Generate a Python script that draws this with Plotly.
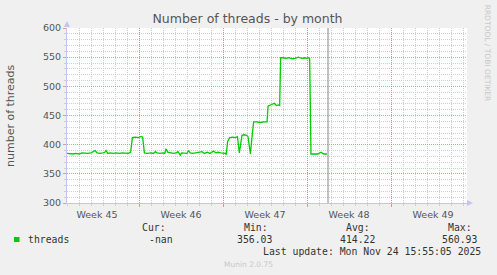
import plotly.graph_objects as go

# ---------------- data ----------------
days = [0.0, 0.25, 0.5, 0.75, 1.0, 1.25, 1.5, 1.75, 2.0, 2.2, 2.35, 2.5, 2.75, 3.0, 3.15, 3.25,
        3.4, 3.6, 3.85, 4.1, 4.35, 4.6, 4.85, 5.1, 5.3, 5.45, 5.7, 5.95, 6.2, 6.3, 6.45, 6.7,
        7.0, 7.2, 7.36, 7.5, 7.75, 8.0, 8.15, 8.25, 8.4, 8.6, 8.85, 9.1, 9.24, 9.35, 9.44, 9.55,
        9.8, 10.0, 10.13, 10.25, 10.5, 10.75, 11.0, 11.25, 11.45, 11.7, 11.9, 12.05, 12.2, 12.4,
        12.6, 12.8, 13.0, 13.2, 13.27, 13.38, 13.55, 13.8, 14.05, 14.2, 14.36, 14.5, 14.58, 14.75,
        14.95, 15.08, 15.28, 15.4, 15.55, 15.8, 16.1, 16.4, 16.67, 16.75, 16.95, 17.15, 17.28,
        17.44, 17.6, 17.72, 17.8, 18.0, 18.25, 18.5, 18.75, 19.0, 19.3, 19.55, 19.8, 20.0, 20.14,
        20.22, 20.33, 20.6, 20.9, 21.16, 21.39, 21.66]
threads = [385, 384, 384, 385, 384, 386, 385, 385, 386, 388, 390, 386, 385, 386, 387, 390,
           385, 386, 385, 386, 385, 386, 386, 385, 387, 412, 413, 412, 414, 413, 386, 385,
           386, 385, 388, 386, 385, 386, 385, 393, 387, 386, 385, 386, 388, 385, 382, 386,
           386, 385, 390, 386, 385, 386, 386, 388, 385, 387, 385, 387, 389, 386,
           387, 386, 386, 385, 383, 405, 412, 413, 412, 414, 386, 412, 416, 417,
           416, 414, 384, 410, 439, 439, 438, 439, 439, 466, 468, 469, 471,
           467, 468, 467, 549, 549, 548, 549, 547, 548, 550, 548, 549, 548, 549,
           548, 384, 384, 384, 387, 384, 384]

week_bounds = [6, 13, 20, 27]
week_label_pos = [2.5, 9.5, 16.5, 23.5, 30.5]
week_labels = ["Week 45", "Week 46", "Week 47", "Week 48", "Week 49"]
x_end = 33.33
now_day = 21.75
y_range = [300, 600]

legend_name = "threads"
stat_cur = "-nan"
stat_min = "356.03"
stat_avg = "414.22"
stat_max = "560.93"
last_update = "Last update: Mon Nov 24 15:55:05 2025"

# ---------------- layout helpers ----------------
W, H = 497, 275
L, R, T, B = 67, 30, 28, 72
PW, PH = W - L - R, H - T - B


def px(x):
    return (x - L) / PW


def py(y):
    return (H - B - y) / PH


SANS = "DejaVu Sans"
MONO = "DejaVu Sans Mono"
RED_GRID = "rgba(225,120,120,0.75)"
GRAY_GRID = "#cfcfcf"
AXIS_COL = "#c4c4f4"
DASH = "1px,1px"

fig = go.Figure()
fig.add_trace(go.Scatter(x=days, y=threads, mode="lines",
                         line=dict(color="#00cc00", width=1.3),
                         hoverinfo="skip", showlegend=False))
fig.add_trace(go.Scatter(x=[0], y=[300], mode="markers", marker=dict(opacity=0),
                         xaxis="x2", hoverinfo="skip", showlegend=False))

fig.update_layout(
    width=W, height=H,
    margin=dict(l=L, r=R, t=T, b=B),
    paper_bgcolor="#f0f0f0",
    plot_bgcolor="#ffffff",
    showlegend=False,
    title=dict(text="Number of threads - by month", x=247.5 / W, xref="container",
               xanchor="center", y=1 - 19 / H, yref="container", yanchor="middle",
               font=dict(family=SANS, size=12.5, color="#555555")),
    xaxis=dict(range=[0, x_end], tickvals=week_bounds, showticklabels=False,
               showgrid=True, gridcolor=RED_GRID, griddash=DASH, gridwidth=1,
               ticks="outside", ticklen=3, tickcolor=RED_GRID,
               showline=True, linecolor=AXIS_COL, linewidth=1, zeroline=False,
               minor=dict(tick0=0, dtick=1, showgrid=True, gridcolor=GRAY_GRID,
                          griddash=DASH, ticks="outside", ticklen=2, tickcolor=GRAY_GRID)),
    xaxis2=dict(range=[0, x_end], overlaying="x", side="bottom",
                tickvals=week_label_pos, ticktext=week_labels,
                showgrid=False, showline=False, zeroline=False, ticks="",
                ticklabelstandoff=4,
                tickfont=dict(family=SANS, size=9.5, color="#555555")),
    yaxis=dict(range=y_range, tick0=300, dtick=50,
               showgrid=True, gridcolor=RED_GRID, griddash=DASH, gridwidth=1,
               ticks="outside", ticklen=3, tickcolor=RED_GRID,
               showline=True, linecolor=AXIS_COL, linewidth=1, zeroline=False,
               tickfont=dict(family=SANS, size=9.5, color="#555555"),
               minor=dict(tick0=300, dtick=10, showgrid=True, gridcolor=GRAY_GRID,
                          griddash=DASH, ticks="outside", ticklen=2, tickcolor=GRAY_GRID)),
)

shapes = [
    # "now" marker
    dict(type="line", xref="x", yref="paper", x0=now_day, x1=now_day, y0=0, y1=1,
         line=dict(color="#888888", width=1)),
    # axis arrows
    dict(type="path", xref="paper", yref="paper",
         path=f"M {px(L-3)} {py(27)} L {px(L+3)} {py(27)} L {px(L)} {py(21)} Z",
         fillcolor=AXIS_COL, line=dict(width=0)),
    dict(type="path", xref="paper", yref="paper",
         path=f"M {px(W-R)} {py(H-B-3)} L {px(W-R)} {py(H-B+3)} L {px(W-R+6)} {py(H-B)} Z",
         fillcolor=AXIS_COL, line=dict(width=0)),
    # legend swatch
    dict(type="rect", xref="paper", yref="paper", x0=px(14), x1=px(19.5), y0=py(242), y1=py(237),
         fillcolor="#00cc00", line=dict(width=0)),
]
fig.update_layout(shapes=shapes)


def ann(text, x, y, anchor="left", size=9.8, family=MONO, color="#333333", angle=0):
    fig.add_annotation(text=text, x=px(x), y=py(y), xref="paper", yref="paper",
                       xanchor=anchor, yanchor="middle", showarrow=False,
                       textangle=angle, borderpad=0,
                       font=dict(family=family, size=size, color=color))


ann("number of threads", 10.5, 115.5, anchor="center", size=11, family=SANS,
    color="#555555", angle=-90)
ann(legend_name, 26.5, 239.5)
ann("Cur:", 140.5, 227.5)
ann(stat_cur, 147.5, 239.5)
ann("Min:", 242.5, 227.5)
ann(stat_min, 272.5, 239.5, anchor="right")
ann("Avg:", 345, 227.5)
ann(stat_avg, 339, 239.5)
ann("Max:", 447, 227.5)
ann(stat_max, 441, 239.5)
ann(last_update, 261.5, 251)
ann("Munin 2.0.75", 223.3, 264.3, size=7.5, family=SANS, color="#c8c8c8")
ann("RRDTOOL / TOBI OETIKER", 487.7, 53.4, anchor="center", size=7.5, family=SANS,
    color="#c8c8c8", angle=90)

fig.write_html("out.html")
